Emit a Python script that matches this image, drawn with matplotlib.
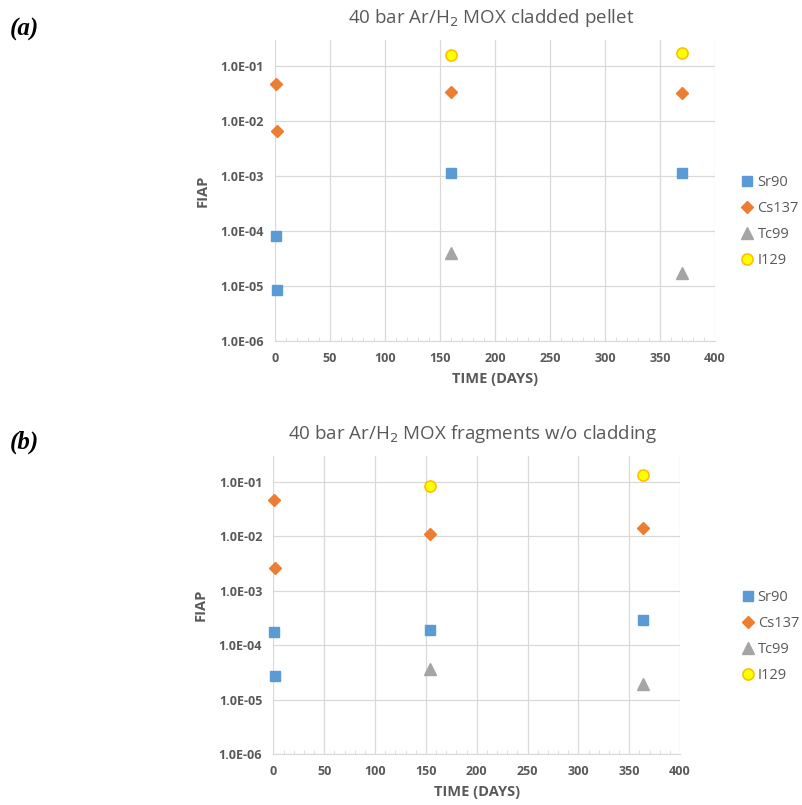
import matplotlib.pyplot as plt
from matplotlib.ticker import FixedLocator, FuncFormatter, MultipleLocator

# panel (a): cladded pellet
a_sr90_t = [1, 2, 160, 370]
a_sr90 = [8.1e-5, 8.4e-6, 1.12e-3, 1.14e-3]
a_cs137_t = [0.5, 2, 160, 370]
a_cs137 = [4.8e-2, 6.7e-3, 3.4e-2, 3.3e-2]
a_tc99_t = [160, 370]
a_tc99 = [4.0e-5, 1.75e-5]
a_i129_t = [160, 370]
a_i129 = [0.158, 0.174]

# panel (b): fragments without cladding
b_sr90_t = [1, 2, 154, 364]
b_sr90 = [1.79e-4, 2.73e-5, 1.95e-4, 2.88e-4]
b_cs137_t = [1, 2, 154, 364]
b_cs137 = [4.6e-2, 2.66e-3, 1.09e-2, 1.43e-2]
b_tc99_t = [154, 364]
b_tc99 = [3.7e-5, 1.95e-5]
b_i129_t = [154, 364]
b_i129 = [8.5e-2, 0.135]

y_ticks = [1e-6, 1e-5, 1e-4, 1e-3, 1e-2, 1e-1]
x_ticks = [0, 50, 100, 150, 200, 250, 300, 350, 400]

grey = '#595959'
plt.rcParams['font.family'] = ['Open Sans', 'DejaVu Sans']

fig = plt.figure(figsize=(8.03, 8.05), dpi=100)
ax1 = fig.add_axes([0.3425, 0.5764, 0.548, 0.374])
ax2 = fig.add_axes([0.3404, 0.063, 0.5065, 0.3706])


def draw(ax, data, title, legend_pos):
    (sr_t, sr), (cs_t, cs), (tc_t, tc), (i_t, i) = data
    ax.plot(sr_t, sr, 's', color='#5B9BD5', markersize=7, label='Sr90',
            zorder=3, clip_on=False)
    ax.plot(cs_t, cs, 'D', color='#ED7D31', markersize=6, label='Cs137',
            zorder=3, clip_on=False)
    ax.plot(tc_t, tc, '^', color='#A5A5A5', markersize=8, label='Tc99',
            zorder=3, clip_on=False)
    ax.plot(i_t, i, 'o', color='#FFFF00', markeredgecolor='#FFC000',
            markeredgewidth=1.2, markersize=8, label='I129', zorder=3,
            clip_on=False)
    ax.set_yscale('log')
    ax.set_ylim(1e-6, 0.3)
    ax.set_xlim(0, 400)
    ax.yaxis.set_major_locator(FixedLocator(y_ticks))
    ax.yaxis.set_minor_locator(FixedLocator([]))
    ax.yaxis.set_major_formatter(FuncFormatter(lambda v, p: '%.1E' % v))
    ax.xaxis.set_major_locator(FixedLocator(x_ticks))
    ax.xaxis.set_minor_locator(MultipleLocator(10))
    ax.grid(True, which='major', color='#d9d9d9', linewidth=0.9)
    for s in ['top', 'right', 'left']:
        ax.spines[s].set_visible(False)
    ax.spines['bottom'].set_color('#d9d9d9')
    ax.tick_params(axis='both', which='major', length=0, labelsize=9,
                   labelcolor=grey, pad=8)
    ax.tick_params(axis='x', which='minor', direction='in', length=3,
                   color='#d9d9d9')
    for lbl in ax.get_xticklabels() + ax.get_yticklabels():
        lbl.set_fontweight('bold')
    ax.set_xlabel('TIME (DAYS)', fontsize=10.5, fontweight='bold', color=grey,
                  labelpad=5)
    ax.set_ylabel('FIAP', fontsize=10.5, fontweight='bold', color=grey,
                  labelpad=8)
    ax.set_title(title, fontsize=13.5, color=grey, pad=12, x=0.49)
    ax.legend(loc='upper left', bbox_to_anchor=legend_pos, frameon=False,
              fontsize=10.5, labelcolor=grey, handletextpad=0.1,
              handlelength=1.2, labelspacing=0.75, borderaxespad=0)


draw(ax1, [(a_sr90_t, a_sr90), (a_cs137_t, a_cs137), (a_tc99_t, a_tc99),
           (a_i129_t, a_i129)],
     r'40 bar Ar/H$_2$ MOX cladded pellet', (1.04, 0.57))
draw(ax2, [(b_sr90_t, b_sr90), (b_cs137_t, b_cs137), (b_tc99_t, b_tc99),
           (b_i129_t, b_i129)],
     r'40 bar Ar/H$_2$ MOX fragments w/o cladding', (1.13, 0.57))

fig.text(0.012, 0.964, '(a)', fontsize=18, fontweight='bold',
         fontstyle='italic', family='Liberation Serif', va='center')
fig.text(0.012, 0.451, '(b)', fontsize=18, fontweight='bold',
         fontstyle='italic', family='Liberation Serif', va='center')

fig.savefig('out.png', dpi=100)
